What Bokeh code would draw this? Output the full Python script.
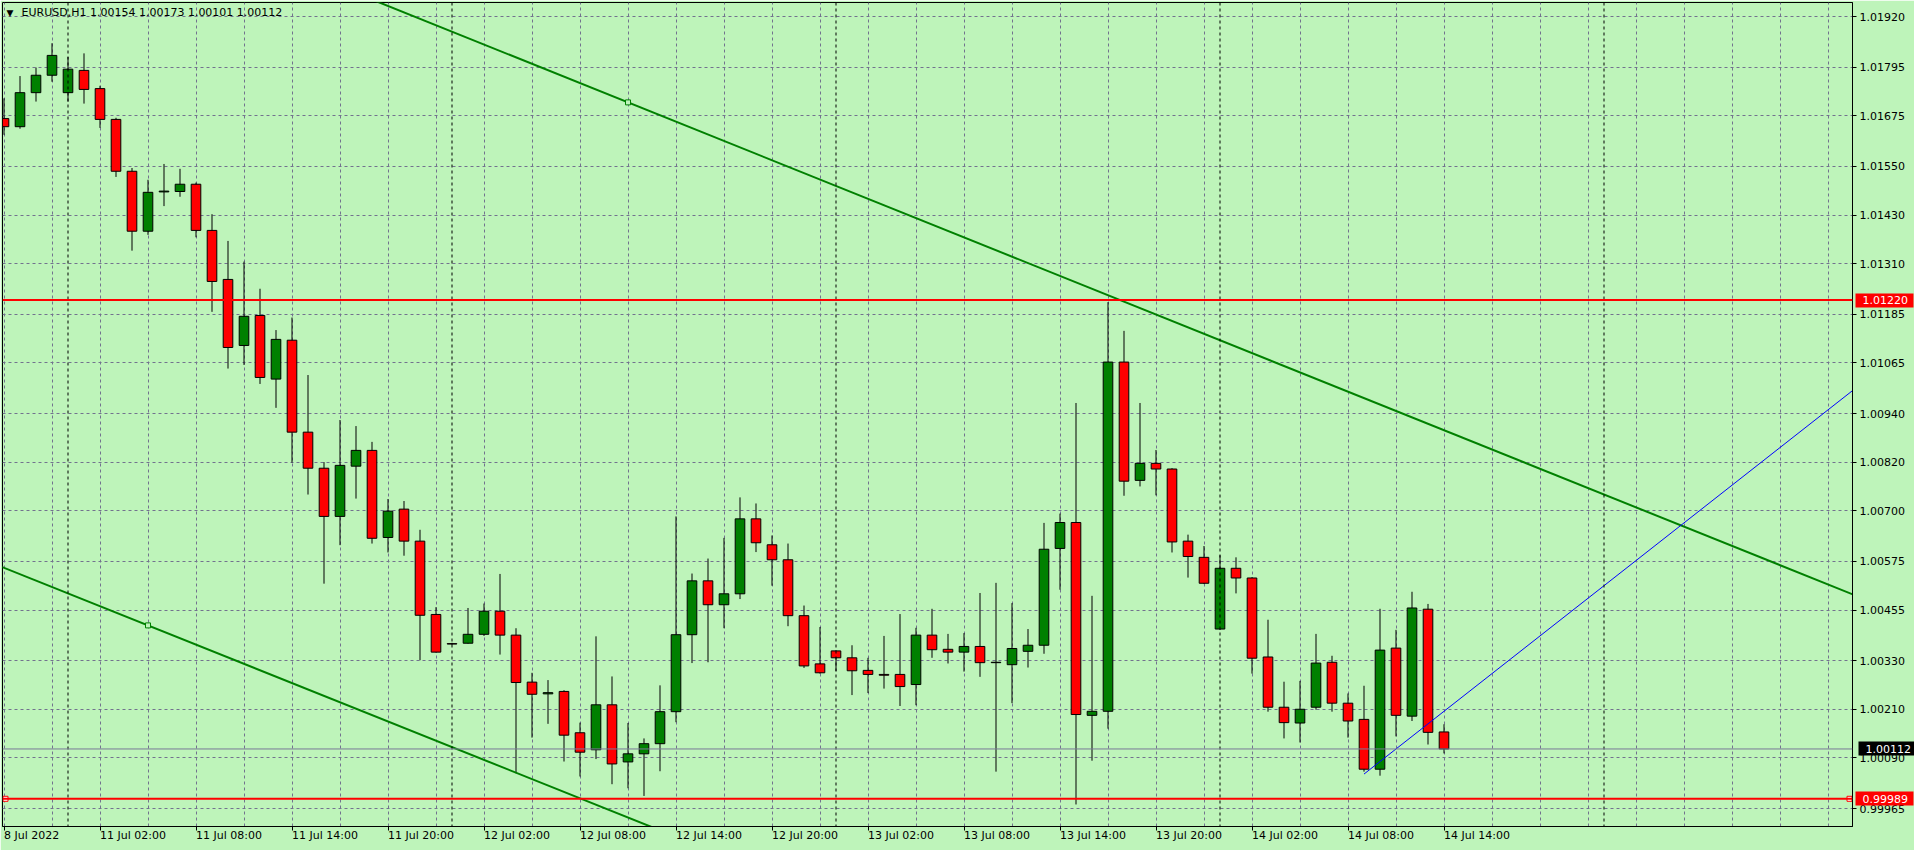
import pandas as pd
from bokeh.plotting import figure
from bokeh.models import (FixedTicker, Range1d, Span, Label, PrintfTickFormatter, ColumnDataSource,
                          LinearAxis)
from bokeh.embed import file_html
from bokeh.resources import INLINE

# ---------------- data ----------------
symbol = "EURUSD,H1"
first_bar = "2022-07-08 20:00"

opens = [1.01668, 1.01648, 1.01732, 1.01775, 1.01732, 1.01787, 1.01742, 1.01666, 1.01538, 1.01390,
         1.01487, 1.01488, 1.01506, 1.01392, 1.01271, 1.01108, 1.01182, 1.01025, 1.01121, 1.00894,
         1.00805, 1.00686, 1.00810, 1.00849, 1.00634, 1.00704, 1.00625, 1.00444, 1.00372, 1.00373,
         1.00395, 1.00452, 1.00393, 1.00277, 1.00248, 1.00254, 1.00152, 1.00110, 1.00221, 1.00080,
         1.00100, 1.00125, 1.00204, 1.00394, 1.00527, 1.00468, 1.00495, 1.00680, 1.00616, 1.00579,
         1.00441, 1.00322, 1.00354, 1.00337, 1.00306, 1.00296, 1.00296, 1.00271, 1.00393, 1.00358,
         1.00351, 1.00365, 1.00325, 1.00320, 1.00353, 1.00368, 1.00607, 1.00671, 1.00195, 1.00205,
         1.01067, 1.00775, 1.00817, 1.00803, 1.00625, 1.00585, 1.00408, 1.00558, 1.00534, 1.00339,
         1.00215, 1.00176, 1.00215, 1.00326, 1.00225, 1.00185, 1.00062, 1.00361, 1.00193, 1.00457,
         1.00154]
highs = [1.01718, 1.01773, 1.01794, 1.01854, 1.01820, 1.01829, 1.01749, 1.01670, 1.01546, 1.01517,
         1.01556, 1.01544, 1.01510, 1.01432, 1.01366, 1.01315, 1.01248, 1.01146, 1.01177, 1.01035,
         1.00820, 1.00924, 1.00909, 1.00870, 1.00729, 1.00724, 1.00653, 1.00462, 1.00374, 1.00460,
         1.00471, 1.00544, 1.00410, 1.00300, 1.00282, 1.00257, 1.00177, 1.00390, 1.00291, 1.00176,
         1.00138, 1.00269, 1.00686, 1.00545, 1.00582, 1.00633, 1.00733, 1.00718, 1.00639, 1.00619,
         1.00466, 1.00413, 1.00355, 1.00368, 1.00337, 1.00391, 1.00445, 1.00411, 1.00458, 1.00396,
         1.00398, 1.00497, 1.00522, 1.00472, 1.00408, 1.00670, 1.00693, 1.00966, 1.00490, 1.01215,
         1.01144, 1.00966, 1.00850, 1.00805, 1.00641, 1.00613, 1.00590, 1.00585, 1.00536, 1.00431,
         1.00278, 1.00280, 1.00396, 1.00342, 1.00249, 1.00268, 1.00458, 1.00406, 1.00500, 1.00470,
         1.00173]
lows = [1.01628, 1.01643, 1.01710, 1.01759, 1.01710, 1.01705, 1.01645, 1.01524, 1.01342, 1.01381,
        1.01452, 1.01475, 1.01375, 1.01191, 1.01051, 1.01060, 1.01013, 1.00954, 1.00819, 1.00740,
        1.00520, 1.00615, 1.00730, 1.00619, 1.00597, 1.00589, 1.00331, 1.00350, 1.00369, 1.00372,
        1.00391, 1.00345, 1.00052, 1.00140, 1.00174, 1.00081, 1.00044, 1.00087, 1.00025, 1.00015,
        0.99996, 1.00057, 1.00178, 1.00324, 1.00326, 1.00410, 1.00482, 1.00598, 1.00515, 1.00415,
        1.00312, 1.00298, 1.00304, 1.00245, 1.00250, 1.00261, 1.00218, 1.00220, 1.00337, 1.00323,
        1.00303, 1.00290, 1.00056, 1.00225, 1.00313, 1.00347, 1.00505, 0.99975, 1.00083, 1.00162,
        1.00737, 1.00760, 1.00738, 1.00597, 1.00535, 1.00519, 1.00406, 1.00496, 1.00298, 1.00204,
        1.00138, 1.00128, 1.00209, 1.00204, 1.00140, 1.00056, 1.00046, 1.00143, 1.00181, 1.00123,
        1.00101]
closes = [1.01648, 1.01732, 1.01775, 1.01824, 1.01790, 1.01740, 1.01666, 1.01538, 1.01390, 1.01486,
          1.01489, 1.01506, 1.01392, 1.01266, 1.01103, 1.01180, 1.01029, 1.01123, 1.00894, 1.00805,
          1.00686, 1.00812, 1.00849, 1.00632, 1.00699, 1.00625, 1.00442, 1.00351, 1.00371, 1.00395,
          1.00452, 1.00393, 1.00276, 1.00247, 1.00251, 1.00146, 1.00104, 1.00221, 1.00075, 1.00100,
          1.00125, 1.00204, 1.00394, 1.00527, 1.00468, 1.00495, 1.00680, 1.00621, 1.00579, 1.00441,
          1.00317, 1.00300, 1.00337, 1.00305, 1.00296, 1.00294, 1.00266, 1.00393, 1.00357, 1.00351,
          1.00365, 1.00325, 1.00326, 1.00360, 1.00368, 1.00605, 1.00671, 1.00197, 1.00205, 1.01067,
          1.00773, 1.00817, 1.00803, 1.00623, 1.00587, 1.00521, 1.00558, 1.00534, 1.00336, 1.00215,
          1.00177, 1.00210, 1.00324, 1.00225, 1.00181, 1.00062, 1.00356, 1.00195, 1.00460, 1.00153,
          1.00112]

x_tick_labels = ["8 Jul 2022", "11 Jul 02:00", "11 Jul 08:00", "11 Jul 14:00", "11 Jul 20:00",
                 "12 Jul 02:00", "12 Jul 08:00", "12 Jul 14:00", "12 Jul 20:00", "13 Jul 02:00",
                 "13 Jul 08:00", "13 Jul 14:00", "13 Jul 20:00", "14 Jul 02:00", "14 Jul 08:00",
                 "14 Jul 14:00"]
y_tick_values = [1.01920, 1.01795, 1.01675, 1.01550, 1.01430, 1.01310, 1.01185, 1.01065, 1.00940,
                 1.00820, 1.00700, 1.00575, 1.00455, 1.00330, 1.00210, 1.00090, 0.99965]

resistance_level = 1.01220
support_level = 0.99989
bid_price = 1.00112

upper_trend_x = [39, 69]
upper_trend_y = [1.01708, 1.01232]
lower_trend_x = [9, 35]
lower_trend_y = [1.00417, 1.00006]
blue_trend_x = [85, 89]
blue_trend_y = [1.00050, 1.00174]

# ---------------- layout constants ----------------
BG = "#BEF4BA"
FONT = "DejaVu Sans"
FS = "11px"
GRID = "#72728e"
FRAME_W, FRAME_H = 1850, 824
PPB = 16.0                          # pixels per bar
PPX = 2.4684e-5                     # price per pixel
X_LO = -1.5 / PPB
X_HI = X_LO + FRAME_W / PPB
Y_HI = 1.01920 + 14 * PPX
Y_LO = Y_HI - FRAME_H * PPX
SCALE_W = 52                        # approx. width taken by the price scale labels
TAG_W = 58                          # width of a price tag box

# trading-hour slots (weekends skipped)
slots = []
t = pd.Timestamp(first_bar)
while len(slots) < 120:
    if t.weekday() < 5:
        slots.append(t)
    t += pd.Timedelta(hours=1)
n = len(opens)
label_ticks = [k for k in range(n) if slots[k].hour % 6 == 2]
grid_ticks = [k for k in range(len(slots)) if slots[k].hour % 3 == 2]
day_starts = [k for k in range(len(slots)) if slots[k].hour == 0]

p = figure(frame_width=FRAME_W, frame_height=FRAME_H,
           x_range=Range1d(X_LO, X_HI), y_range=Range1d(Y_LO, Y_HI),
           y_axis_location="right", toolbar_location=None, output_backend="svg",
           min_border_left=2, min_border_top=2, min_border_right=62, min_border_bottom=23,
           background_fill_color=BG, border_fill_color=BG,
           outline_line_color="black", outline_line_width=1)

# axes
xa = p.xaxis[0]
xa.ticker = FixedTicker(ticks=label_ticks)
xa.major_label_overrides = {k: lab for k, lab in zip(label_ticks, x_tick_labels)}
xa.major_label_orientation = -0.0001
xa.major_label_text_align = "left"
xa.major_label_text_font = FONT
xa.major_label_text_font_size = FS
xa.major_label_text_color = "black"
xa.major_tick_out = 4
xa.major_tick_in = 0
xa.minor_tick_out = 0
xa.minor_tick_in = 0
xa.major_label_standoff = 5
xa.axis_line_color = "black"
xa.major_tick_line_color = "black"

ya = p.yaxis[0]
ya.ticker = FixedTicker(ticks=y_tick_values)
ya.formatter = PrintfTickFormatter(format="%.5f")
ya.major_label_text_font = FONT
ya.major_label_text_font_size = FS
ya.major_label_text_color = "black"
ya.major_tick_out = 4
ya.major_tick_in = 0
ya.minor_tick_out = 0
ya.minor_tick_in = 0
ya.major_label_standoff = 3
ya.axis_line_color = "black"
ya.major_tick_line_color = "black"

# price tags: extra price-scale axes stacked after the main scale; their thick ticks reach
# back over the main scale to form the coloured boxes
for levels, colr in (([resistance_level, support_level], "#FF0000"), ([bid_price], "black")):
    tag = LinearAxis(ticker=FixedTicker(ticks=levels),
                     formatter=PrintfTickFormatter(format="%.5f"),
                     major_tick_in=SCALE_W, major_tick_out=TAG_W - SCALE_W,
                     major_tick_line_color=colr, major_tick_line_width=14,
                     major_tick_line_cap="butt",
                     minor_tick_out=0, minor_tick_in=0, axis_line_color=None,
                     major_label_standoff=-(TAG_W - 7), major_label_text_color="white",
                     major_label_text_font=FONT, major_label_text_font_size=FS)
    p.add_layout(tag, "right")

# grid
p.xgrid.ticker = FixedTicker(ticks=grid_ticks)
p.ygrid.ticker = FixedTicker(ticks=y_tick_values)
for g in (p.xgrid, p.ygrid):
    g.grid_line_color = GRID
    g.grid_line_dash = "3 3"
    g.grid_line_width = 1

# day separators
for k in day_starts:
    p.add_layout(Span(location=k, dimension="height", line_color="black",
                      line_dash="3 3", line_width=1))

# bid line
p.add_layout(Span(location=bid_price, dimension="width", line_color="#7a7a96", line_width=1))

# candles
src = ColumnDataSource(dict(
    x=list(range(n)), o=opens, h=highs, l=lows, c=closes,
    top=[max(a, b) for a, b in zip(opens, closes)],
    bot=[min(a, b) for a, b in zip(opens, closes)],
    col=["#008000" if c >= o else "#FF0000" for o, c in zip(opens, closes)],
))
p.segment(x0="x", y0="h", x1="x", y1="l", source=src, line_color="black", line_width=1)
p.vbar(x="x", width=0.6, top="top", bottom="bot", source=src,
       fill_color="col", line_color="black", line_width=1)

# horizontal levels
for lvl in (resistance_level, support_level):
    p.add_layout(Span(location=lvl, dimension="width", line_color="#FF0000", line_width=2))
p.scatter(x=[X_LO + 3 / PPB, X_HI - 3 / PPB], y=[support_level, support_level], marker="square",
          size=5, line_color="#FF0000", fill_color="white", line_width=1)


def extend(xs, ys, x0, x1):
    k = (ys[1] - ys[0]) / (xs[1] - xs[0])
    return [x0, x1], [ys[0] + (x0 - xs[0]) * k, ys[0] + (x1 - xs[0]) * k]


# trend lines
for xs, ys in ((upper_trend_x, upper_trend_y), (lower_trend_x, lower_trend_y)):
    lx, ly = extend(xs, ys, X_LO - 1, X_HI + 1)
    p.line(lx, ly, line_color="#008000", line_width=2)
p.scatter(x=[upper_trend_x[0], lower_trend_x[0]], y=[upper_trend_y[0], lower_trend_y[0]],
          marker="square", size=5, line_color="#008000", fill_color=BG, line_width=1)
bx, by = extend(blue_trend_x, blue_trend_y, blue_trend_x[0], X_HI + 1)
p.line(bx, by, line_color="#0000FF", line_width=1)

# chart header
p.add_layout(Label(x=X_LO, y=Y_HI, x_offset=4, y_offset=-10, text="\u25BC", text_color="black",
                   text_font=FONT, text_font_size="9px", text_baseline="middle"))
header = f"{symbol}  {opens[-1]:.5f} {highs[-1]:.5f} {lows[-1]:.5f} {closes[-1]:.5f}"
p.add_layout(Label(x=X_LO, y=Y_HI, x_offset=19, y_offset=-10, text=header, text_color="black",
                   text_font=FONT, text_font_size=FS, text_baseline="middle"))

open("out.html", "w").write(file_html(p, INLINE))
